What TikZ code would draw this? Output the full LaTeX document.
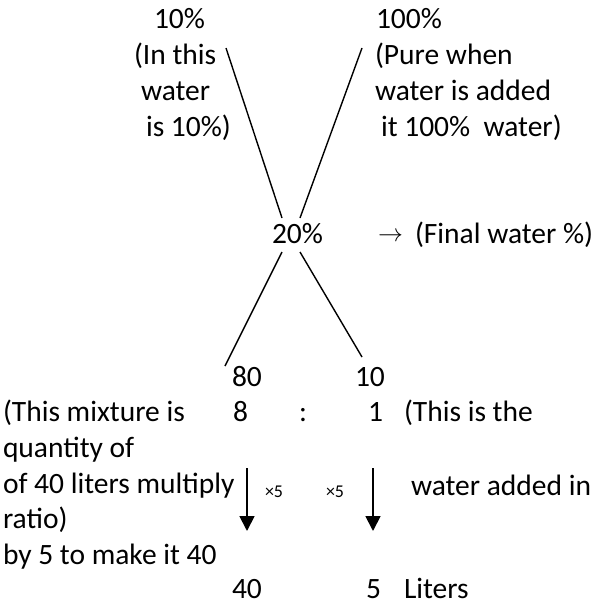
\documentclass[tikz,border=0pt]{standalone}
\usepackage{fontspec}
\setmainfont{Carlito}
\usetikzlibrary{arrows.meta}
\tikzset{
  txt/.style={anchor=base west, inner sep=0pt, outer sep=0pt, font=\fontsize{29.5}{36}\selectfont},
  small/.style={anchor=base west, inner sep=0pt, outer sep=0pt, font=\fontsize{18}{20}\selectfont},
  cross/.style={line width=1.4pt},
  down/.style={line width=1.8pt, -{Triangle[width=15pt,length=15pt]}}
}
\begin{document}
\begin{tikzpicture}[x=1pt,y=-1pt]
\useasboundingbox (0,0) rectangle (593,605);
% top texts
\node[txt] (p10) at (154,28) {10\%};
\node[txt] (p100) at (376,28) {100\%};
\node[txt] (l1) at (134,64) {(In this};
\node[txt] (l2) at (141,100) {water};
\node[txt] (l3) at (146,136) {is 10\%)};
\node[txt] (r1) at (375,64) {(Pure when};
\node[txt] (r2) at (375,100) {water is added};
\node[txt] (r3) at (381,136) {it 100\%\ \ water)};
% middle
\node[txt] (p20) at (272,243) {20\%};
\node[txt] (arr) at (378,241) {\fontsize{23}{26}\selectfont$\rightarrow$};
\node[txt] (fin) at (415,243) {(Final water \%)};
% cross lines
\coordinate (a1) at (226,48);
\coordinate (a2) at (282,218);
\coordinate (b1) at (362,48);
\coordinate (b2) at (300,218);
\coordinate (c1) at (282,252);
\coordinate (c2) at (225,366);
\coordinate (d1) at (300,252);
\coordinate (d2) at (362,357);
\draw[cross] (a1) -- (a2);
\draw[cross] (b1) -- (b2);
\draw[cross] (c1) -- (c2);
\draw[cross] (d1) -- (d2);
% lower
\node[txt] (n80) at (232,386) {80};
\node[txt] (n10) at (355,386) {10};
\node[txt] (m1) at (3,421) {(This mixture is};
\node[txt] (n8) at (233,421) {8};
\node[txt] (col) at (299,421) {:};
\node[txt] (n1) at (368,421) {1};
\node[txt] (w1) at (404,421) {(This is the};
\node[txt] (m2) at (3,457) {quantity of};
\node[txt] (m3) at (3,493) {of 40 liters multiply};
\node[txt] (w2) at (411,495) {water added in};
\node[txt] (m4) at (3,528) {ratio)};
\node[txt] (m5) at (3,564) {by 5 to make it 40};
\node[txt] (n40) at (232,598) {40};
\node[txt] (n5) at (366,598) {5};
\node[txt] (lit) at (404,598) {Liters};
\node[small] (x1) at (265,497) {×5};
\node[small] (x2) at (326,497) {×5};
% arrows
\coordinate (e1) at (247,468);
\coordinate (e2) at (247,531);
\coordinate (f1) at (373,468);
\coordinate (f2) at (373,531);
\draw[down] (e1) -- (e2);
\draw[down] (f1) -- (f2);
\end{tikzpicture}
\end{document}
